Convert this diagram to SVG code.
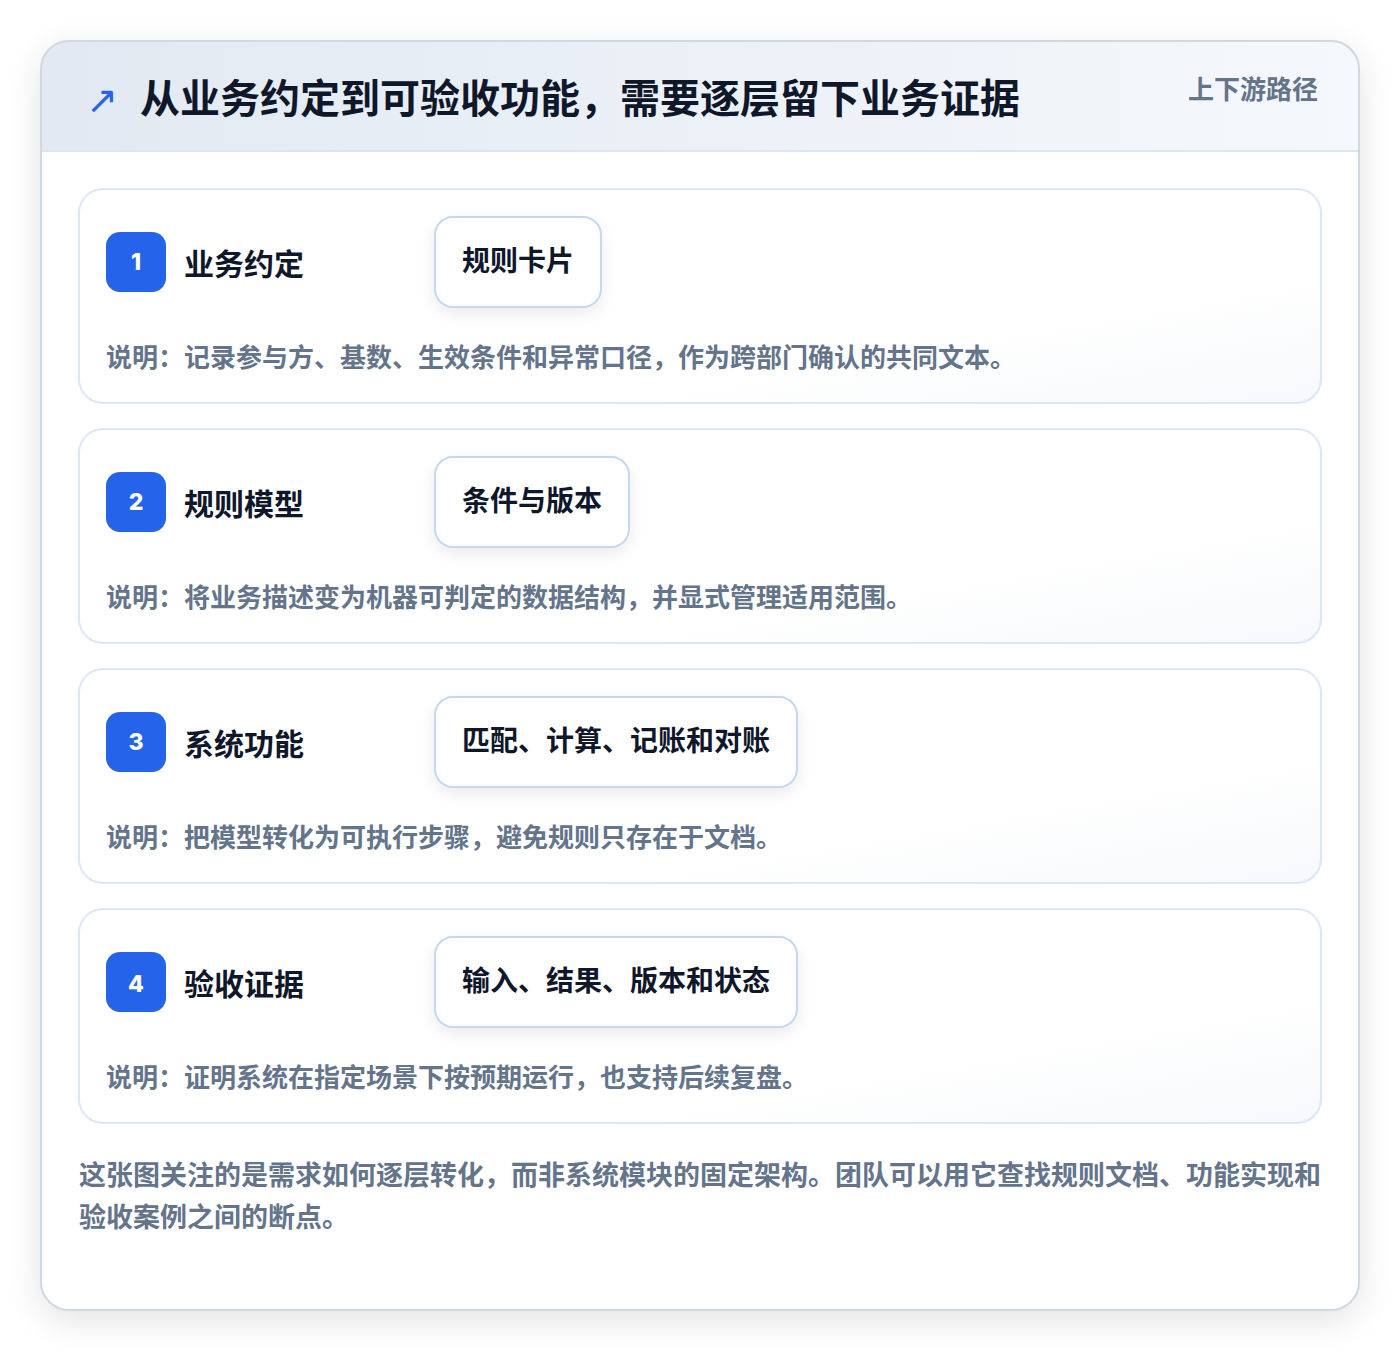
<svg xmlns="http://www.w3.org/2000/svg" width="1400" height="1352" viewBox="0 0 1400 1352">
  <defs>
    <linearGradient id="hdr" x1="0" y1="0" x2="1" y2="0">
      <stop offset="0" stop-color="#e2e9f2"/>
      <stop offset="1" stop-color="#f5f8fc"/>
    </linearGradient>
    <linearGradient id="cardbg" x1="0" y1="0" x2="1" y2="1">
      <stop offset="0" stop-color="#ffffff"/>
      <stop offset="0.7" stop-color="#ffffff"/>
      <stop offset="1" stop-color="#f6f8fb"/>
    </linearGradient>
    <filter id="outerShadow" x="-10%" y="-10%" width="120%" height="120%">
      <feGaussianBlur in="SourceAlpha" stdDeviation="18"/>
      <feOffset dy="10" result="b"/>
      <feComponentTransfer><feFuncA type="linear" slope="0.12"/></feComponentTransfer>
      <feMerge><feMergeNode/><feMergeNode in="SourceGraphic"/></feMerge>
    </filter>
    <filter id="pillShadow" x="-20%" y="-30%" width="140%" height="170%">
      <feGaussianBlur in="SourceAlpha" stdDeviation="8"/>
      <feOffset dy="6" result="b"/>
      <feComponentTransfer><feFuncA type="linear" slope="0.08"/></feComponentTransfer>
      <feMerge><feMergeNode/><feMergeNode in="SourceGraphic"/></feMerge>
    </filter>
    <clipPath id="outerClip">
      <rect x="41" y="41" width="1318" height="1269" rx="28"/>
    </clipPath>
    <style>
      .cjk { font-family: "Noto Sans CJK SC", "Noto Sans", sans-serif; font-weight: 700; }
      .title { font-size: 40px; fill: #0f172a; }
      .tag { font-size: 26px; fill: #64748b; }
      .card { fill: url(#cardbg); stroke: #dbe7f5; stroke-width: 2; }
      .badge { fill: #2563eb; }
      .num { font-family: "Inter", "Liberation Sans", sans-serif; font-weight: 800; font-size: 23px; fill: #ffffff; }
      .stage { font-size: 30px; fill: #0f172a; }
      .pill { fill: #ffffff; stroke: #c3d9f3; stroke-width: 2; }
      .pilltext { font-size: 28px; fill: #0f172a; }
      .desc { font-size: 26px; fill: #64748b; }
      .foot { font-size: 27px; fill: #64748b; }
    </style>
  </defs>

  <rect width="1400" height="1352" fill="#ffffff"/>

  <g id="frame">
    <rect x="41" y="41" width="1318" height="1269" rx="28" fill="#ffffff" filter="url(#outerShadow)"/>
    <g clip-path="url(#outerClip)">
      <rect x="41" y="41" width="1318" height="110" fill="url(#hdr)"/>
    </g>
    <line x1="41" y1="151" x2="1359" y2="151" stroke="#dbe6f4" stroke-width="2"/>
    <rect x="41" y="41" width="1318" height="1269" rx="28" fill="none" stroke="#cfd8e3" stroke-width="2"/>
  </g>

  <g id="header">
    <text x="86" y="113" font-family="DejaVu Sans, sans-serif" font-size="38" fill="#2563eb">↗</text>
    <text class="cjk title" x="140" y="113">从业务约定到可验收功能，需要逐层留下业务证据</text>
    <text class="cjk tag" x="1188" y="99">上下游路径</text>
  </g>

  <g id="connectors"></g>

  <g id="stage1">
    <rect class="card" x="79" y="189" width="1242" height="214" rx="24"/>
    <rect class="badge" x="106" y="232" width="60" height="60" rx="14"/>
    <text class="num" x="136" y="270" text-anchor="middle">1</text>
    <text class="cjk stage" x="184" y="275">业务约定</text>
    <rect class="pill" x="435" y="217" width="166" height="90" rx="18" filter="url(#pillShadow)"/>
    <text class="cjk pilltext" x="462" y="271">规则卡片</text>
    <text class="cjk desc" x="106" y="367">说明：记录参与方、基数、生效条件和异常口径，作为跨部门确认的共同文本。</text>
  </g>

  <g id="stage2">
    <rect class="card" x="79" y="429" width="1242" height="214" rx="24"/>
    <rect class="badge" x="106" y="472" width="60" height="60" rx="14"/>
    <text class="num" x="136" y="510" text-anchor="middle">2</text>
    <text class="cjk stage" x="184" y="515">规则模型</text>
    <rect class="pill" x="435" y="457" width="194" height="90" rx="18" filter="url(#pillShadow)"/>
    <text class="cjk pilltext" x="462" y="511">条件与版本</text>
    <text class="cjk desc" x="106" y="607">说明：将业务描述变为机器可判定的数据结构，并显式管理适用范围。</text>
  </g>

  <g id="stage3">
    <rect class="card" x="79" y="669" width="1242" height="214" rx="24"/>
    <rect class="badge" x="106" y="712" width="60" height="60" rx="14"/>
    <text class="num" x="136" y="750" text-anchor="middle">3</text>
    <text class="cjk stage" x="184" y="755">系统功能</text>
    <rect class="pill" x="435" y="697" width="362" height="90" rx="18" filter="url(#pillShadow)"/>
    <text class="cjk pilltext" x="462" y="751">匹配、计算、记账和对账</text>
    <text class="cjk desc" x="106" y="847">说明：把模型转化为可执行步骤，避免规则只存在于文档。</text>
  </g>

  <g id="stage4">
    <rect class="card" x="79" y="909" width="1242" height="214" rx="24"/>
    <rect class="badge" x="106" y="952" width="60" height="60" rx="14"/>
    <text class="num" x="136" y="992" text-anchor="middle">4</text>
    <text class="cjk stage" x="184" y="995">验收证据</text>
    <rect class="pill" x="435" y="937" width="362" height="90" rx="18" filter="url(#pillShadow)"/>
    <text class="cjk pilltext" x="462" y="991">输入、结果、版本和状态</text>
    <text class="cjk desc" x="106" y="1087">说明：证明系统在指定场景下按预期运行，也支持后续复盘。</text>
  </g>

  <g id="footnote">
    <text class="cjk foot" x="79" y="1185">这张图关注的是需求如何逐层转化，而非系统模块的固定架构。团队可以用它查找规则文档、功能实现和</text>
    <text class="cjk foot" x="79" y="1227">验收案例之间的断点。</text>
  </g>
</svg>
